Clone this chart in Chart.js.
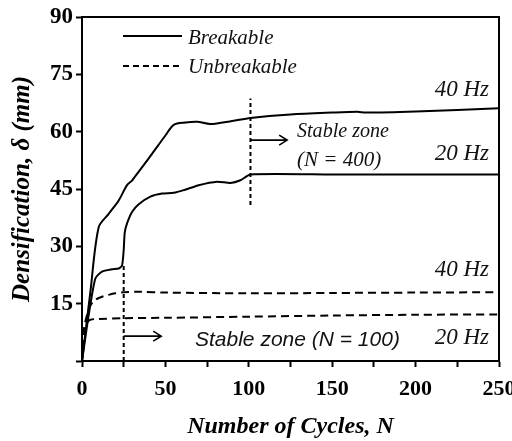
<!DOCTYPE html>
<html>
<head>
<meta charset="utf-8">
<script src="https://cdn.jsdelivr.net/npm/chart.js@4/dist/chart.umd.min.js"></script>
<style>
  html, body { margin: 0; padding: 0; background: #fff; }
  #wrap { width: 512px; height: 441px; }
</style>
</head>
<body>
<div id="wrap"><canvas id="chart"></canvas></div>
<script>
// values
const breakable40N = [0, 5, 10, 16, 22, 27, 30, 31, 40, 50, 55, 62, 69, 77, 90, 101, 125, 150, 165, 170, 200, 250];
const breakable40D = [0, 18, 35, 38.5, 42, 46, 47.2, 47.8, 53, 59, 61.8, 62.4, 62.6, 62.0, 62.8, 63.6, 64.5, 65.0, 65.2, 65.0, 65.3, 66.1];

const breakable20N = [0, 4, 8, 12, 18, 22, 24, 25, 25.6, 27, 30, 34, 41, 48, 55, 61, 70, 81, 89, 95, 101, 150, 250];
const breakable20D = [0, 12, 21.6, 23.4, 24, 24.2, 25, 29, 33.5, 36, 39, 41, 43, 43.8, 44, 44.7, 46, 46.9, 46.6, 47.3, 48.8, 48.8, 48.8];

const unbreak40N = [0, 1, 3, 5, 8, 12, 16, 20, 25, 35, 50, 100, 150, 200, 250];
const unbreak40D = [0, 8, 12, 14.5, 16, 16.8, 17.3, 17.7, 18.0, 18.1, 17.9, 17.7, 17.8, 17.9, 18.0];

const unbreak20N = [0, 1, 2, 3, 5, 10, 25, 50, 100, 150, 200, 250];
const unbreak20D = [0, 5, 8.5, 10, 10.8, 11, 11.2, 11.3, 11.6, 11.9, 12.1, 12.2];

// stable zone markers: [N, from, to]
const stableShort = [25, 0, 25.6];
const stableLong = [101, 40.8, 68.7];

const xTicks = [0, 50, 100, 150, 200, 250];
const yTicks = [15, 30, 45, 60, 75, 90];

const pts = (xs, ys) => xs.map((x, i) => ({ x: x, y: ys[i] }));

const serif = '"Liberation Serif", "Times New Roman", serif';

const extras = {
  id: 'extras',
  afterDatasetsDraw(chart) {
    const { ctx, chartArea: a, scales: { x, y } } = chart;
    ctx.save();
    // frame
    ctx.strokeStyle = '#000';
    ctx.lineWidth = 2;
    ctx.strokeRect(a.left, a.top, a.right - a.left, a.bottom - a.top);

    // legend
    ctx.lineWidth = 2;
    ctx.beginPath(); ctx.moveTo(123, 36); ctx.lineTo(182, 36); ctx.stroke();
    ctx.setLineDash([6, 4]);
    ctx.beginPath(); ctx.moveTo(123, 66); ctx.lineTo(182, 66); ctx.stroke();
    ctx.setLineDash([]);
    ctx.fillStyle = '#111';
    ctx.textBaseline = 'middle';
    ctx.textAlign = 'left';
    ctx.font = 'italic 21px ' + serif;
    ctx.fillText('Breakable', 188, 38);
    ctx.fillText('Unbreakable', 188, 67);

    // frequency labels
    ctx.font = 'italic 23px ' + serif;
    ctx.textAlign = 'right';
    ctx.fillText('40 Hz', a.right - 10, 90);
    ctx.fillText('20 Hz', a.right - 10, 154);
    ctx.fillText('40 Hz', a.right - 10, 270);
    ctx.fillText('20 Hz', a.right - 10, 338);

    // stable zone texts
    ctx.textAlign = 'left';
    ctx.font = 'italic 21px ' + serif;
    ctx.fillText('Stable zone', 297, 131, 92);
    ctx.fillText('(N = 400)', 297, 160, 95);
    ctx.font = 'italic 21px "Liberation Sans", Arial, sans-serif';
    ctx.fillText('Stable zone (N = 100)', 195, 340);

    // arrows
    const arrow = (n0, n1, d) => {
      const x0 = x.getPixelForValue(n0), x1 = x.getPixelForValue(n1), yy = y.getPixelForValue(d);
      ctx.lineWidth = 1.6;
      ctx.beginPath();
      ctx.moveTo(x0, yy); ctx.lineTo(x1, yy);
      ctx.moveTo(x1 - 8, yy - 5); ctx.lineTo(x1, yy); ctx.lineTo(x1 - 8, yy + 5);
      ctx.stroke();
    };
    arrow(101, 123, 57.8);
    arrow(25, 47.5, 6.5);
    ctx.restore();
  }
};

const solid = { borderColor: '#000', borderWidth: 2, pointRadius: 0, tension: 0.3, fill: false };
const dashed = Object.assign({}, solid, { borderDash: [8, 5] });
const marker = { borderColor: '#000', borderWidth: 2, pointRadius: 0, borderDash: [4, 3], fill: false };

new Chart(document.getElementById('chart'), {
  type: 'line',
  data: {
    datasets: [
      Object.assign({ label: 'Breakable 40 Hz', data: pts(breakable40N, breakable40D) }, solid),
      Object.assign({ label: 'Breakable 20 Hz', data: pts(breakable20N, breakable20D) }, solid, { tension: 0.2 }),
      Object.assign({ label: 'Unbreakable 40 Hz', data: pts(unbreak40N, unbreak40D) }, dashed),
      Object.assign({ label: 'Unbreakable 20 Hz', data: pts(unbreak20N, unbreak20D) }, dashed),
      Object.assign({ label: 'Stable zone N=100', data: [{ x: stableShort[0], y: stableShort[1] }, { x: stableShort[0], y: stableShort[2] }] }, marker),
      Object.assign({ label: 'Stable zone N=400', data: [{ x: stableLong[0], y: stableLong[1] }, { x: stableLong[0], y: stableLong[2] }] }, marker),
    ],
  },
  options: {
    responsive: true,
    maintainAspectRatio: false,
    animation: false,
    layout: { padding: { top: 17, right: 13, left: 0, bottom: 0 } },
    plugins: { legend: { display: false }, tooltip: { enabled: false } },
    scales: {
      x: {
        type: 'linear',
        min: 0,
        max: 250,
        afterFit: (s) => { s.height = 80; s.paddingLeft = 0; s.paddingRight = 0; },
        border: { color: '#000', width: 2 },
        grid: { drawOnChartArea: false, color: '#000', tickLength: 6, tickWidth: 2 },
        ticks: {
          stepSize: 25,
          color: '#000',
          padding: 9,
          font: { family: serif, size: 22, weight: 'bold' },
          callback: (v) => (xTicks.includes(v) ? String(v) : ''),
        },
        title: {
          display: true,
          text: 'Number of Cycles, N',
          color: '#000',
          padding: { bottom: 0 },
          font: { family: serif, size: 24, weight: 'bold', style: 'italic' },
        },
      },
      y: {
        min: 0,
        max: 90,
        afterFit: (s) => { s.width = 82; s.paddingTop = 0; s.paddingBottom = 0; },
        border: { color: '#000', width: 2 },
        grid: { drawOnChartArea: false, color: '#000', tickLength: 6, tickWidth: 2 },
        ticks: {
          stepSize: 7.5,
          color: '#000',
          padding: 3,
          font: { family: serif, size: 23, weight: 'bold' },
          callback: (v) => (yTicks.includes(v) ? String(v) : ''),
        },
        title: {
          display: true,
          text: 'Densification, δ (mm)',
          color: '#000',
          padding: { top: 8 },
          font: { family: serif, size: 25, weight: 'bold', style: 'italic' },
        },
      },
    },
  },
  plugins: [extras],
});
</script>
</body>
</html>
